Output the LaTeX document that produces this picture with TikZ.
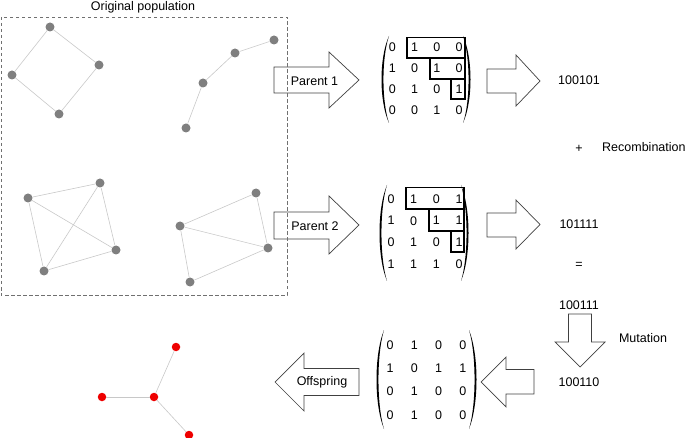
\documentclass[tikz,border=0pt]{standalone}
\usepackage{fontspec}
\setmainfont{Liberation Sans}
\definecolor{nodegray}{HTML}{7F7F7F}
\definecolor{edgegray}{HTML}{C8C8C8}
\definecolor{nodered}{HTML}{EE0000}
\definecolor{arrowgray}{HTML}{404040}
\definecolor{boxgray}{HTML}{707070}
\newcommand\myLP[3]{\fill ({#1+8},#2) .. controls ({#1-2},{#2+0.25*(#3-#2)}) and ({#1-2},{#3-0.25*(#3-#2)}) .. ({#1+8},#3) .. controls ({#1+0.6},{#3-0.25*(#3-#2)}) and ({#1+0.6},{#2+0.25*(#3-#2)}) .. ({#1+8},#2) -- cycle;}
\newcommand\myRP[3]{\fill ({#1-8},#2) .. controls ({#1+2},{#2+0.25*(#3-#2)}) and ({#1+2},{#3-0.25*(#3-#2)}) .. ({#1-8},#3) .. controls ({#1-0.6},{#3-0.25*(#3-#2)}) and ({#1-0.6},{#2+0.25*(#3-#2)}) .. ({#1-8},#2) -- cycle;}
\begin{document}
\begin{tikzpicture}[x=1pt,y=-1pt,
  txt/.style={font=\fontsize{12.5}{15}\selectfont, inner sep=0pt},
  gn/.style={circle, fill=nodegray, inner sep=0pt, minimum size=9pt},
  rn/.style={circle, fill=nodered, inner sep=0pt, minimum size=8.5pt},
  edge/.style={draw=edgegray, line width=0.6pt},
  bigarrow/.style={draw=arrowgray, line width=0.7pt, line join=miter},
  selbox/.style={draw=black, line width=1.1pt},
  popbox/.style={draw=boxgray, line width=0.9pt, dash pattern=on 3.5pt off 2.5pt}
]
\useasboundingbox (0,0) rectangle (685,438);

% ---------- population graphs ----------
\node[gn] (a1) at (50,27) {};
\node[gn] (a2) at (99,65) {};
\node[gn] (a3) at (12,75) {};
\node[gn] (a4) at (59,114) {};
\draw[edge] (a1) -- (a2); \draw[edge] (a2) -- (a4);
\draw[edge] (a4) -- (a3); \draw[edge] (a3) -- (a1);

\node[gn] (b1) at (274,40) {};
\node[gn] (b2) at (235,53) {};
\node[gn] (b3) at (203,83) {};
\node[gn] (b4) at (186,128) {};
\draw[edge] (b1) -- (b2); \draw[edge] (b2) -- (b3); \draw[edge] (b3) -- (b4);

\node[gn] (c1) at (100,183) {};
\node[gn] (c2) at (28,198) {};
\node[gn] (c3) at (116,250) {};
\node[gn] (c4) at (44,271) {};
\draw[edge] (c2) -- (c1); \draw[edge] (c2) -- (c3); \draw[edge] (c1) -- (c4);
\draw[edge] (c1) -- (c3); \draw[edge] (c2) -- (c4); \draw[edge] (c4) -- (c3);

\node[gn] (d1) at (256,193) {};
\node[gn] (d2) at (180,226) {};
\node[gn] (d3) at (268,248) {};
\node[gn] (d4) at (190,282) {};
\draw[edge] (d2) -- (d1); \draw[edge] (d1) -- (d3); \draw[edge] (d2) -- (d3);
\draw[edge] (d2) -- (d4); \draw[edge] (d4) -- (d3);

% ---------- offspring graph ----------
\node[rn] (o1) at (176,347) {};
\node[rn] (o2) at (102,397) {};
\node[rn] (o3) at (154,397) {};
\node[rn] (o4) at (189,435) {};
\draw[edge] (o3) -- (o1); \draw[edge] (o3) -- (o2); \draw[edge] (o3) -- (o4);

% ---------- block arrows ----------
\draw[bigarrow] (274,67) -- (329,67) -- (329,52) -- (359,80) -- (329,108) -- (329,93) -- (274,93) -- cycle;
\draw[bigarrow] (274,212) -- (329,212) -- (329,196) -- (359,225) -- (329,254) -- (329,239) -- (274,239) -- cycle;
\draw[bigarrow] (487,69) -- (516,69) -- (516,55) -- (540,81) -- (516,106) -- (516,93) -- (487,93) -- cycle;
\draw[bigarrow] (487,213) -- (516,213) -- (516,200) -- (540,224.5) -- (516,249) -- (516,237) -- (487,237) -- cycle;
\draw[bigarrow] (568.5,314) -- (591.5,314) -- (591.5,342) -- (605,342) -- (580,367) -- (555,342) -- (568.5,342) -- cycle;
\draw[bigarrow] (534,369.5) -- (506,369.5) -- (506,357) -- (481,382) -- (506,407) -- (506,394) -- (534,394) -- cycle;
\draw[bigarrow] (359,368.5) -- (304,368.5) -- (304,353) -- (275,382) -- (304,411) -- (304,395.5) -- (359,395.5) -- cycle;

% ---------- population box ----------
\draw[popbox] (1,17) rectangle (287,295);
\node[txt] (title) at (143,7) {Original population};

\node[txt] (p1) at (314.5,81) {Parent 1};
\node[txt] (p2) at (315,226) {Parent 2};
\node[txt] (off) at (322,382) {Offspring};

% ---------- matrices ----------
\foreach \row [count=\r] in {{0,1,0,0},{1,0,1,0},{0,1,0,1},{0,0,1,0}}{
  \foreach \v [count=\c] in \row {
    \node[txt] (m1-\r-\c) at ({370+22.3*\c},{47+21*(\r-1)}) {\v};
  }
}
\foreach \row [count=\r] in {{0,1,0,1},{1,0,1,1},{0,1,0,1},{1,1,1,0}}{
  \foreach \v [count=\c] in \row {
    \node[txt] (m2-\r-\c) at ({368.3+22.7*\c},{199+21.7*(\r-1)}) {\v};
  }
}
\foreach \row [count=\r] in {{0,1,0,0},{1,0,1,1},{0,1,0,0},{0,1,0,0}}{
  \foreach \v [count=\c] in \row {
    \node[txt] (m3-\r-\c) at ({365.7+24.3*\c},{345+23.3*(\r-1)}) {\v};
  }
}
\myLP{381}{36}{123}
\myRP{471}{36}{123}
\myLP{379}{185}{281}
\myRP{469}{185}{281}
\myLP{376}{330}{429}
\myRP{477}{330}{429}

\draw[selbox] (407,37.5) -- (465,37.5) -- (465,99) -- (451,99) -- (451,79) -- (430,79) -- (430,58) -- (407,58) -- cycle;
\draw[selbox] (465,58) -- (430,58);
\draw[selbox] (465,79) -- (451,79);
\draw[selbox] (406,187.5) -- (464,187.5) -- (464,252) -- (451,252) -- (451,231) -- (429,231) -- (429,209) -- (406,209) -- cycle;
\draw[selbox] (464,209) -- (429,209);
\draw[selbox] (464,231) -- (451,231);

% ---------- right column texts ----------
\node[txt] (s1) at (579,80) {100101};
\node[txt] (plus) at (579,149) {+};
\node[txt, anchor=west] (rec) at (602,147) {Recombination};
\node[txt] (s2) at (579,224) {101111};
\node[txt] (eq) at (579,265) {=};
\node[txt] (s3) at (579,305) {100111};
\node[txt] (mut) at (643,338) {Mutation};
\node[txt] (s4) at (579,382) {100110};
\end{tikzpicture}
\end{document}
